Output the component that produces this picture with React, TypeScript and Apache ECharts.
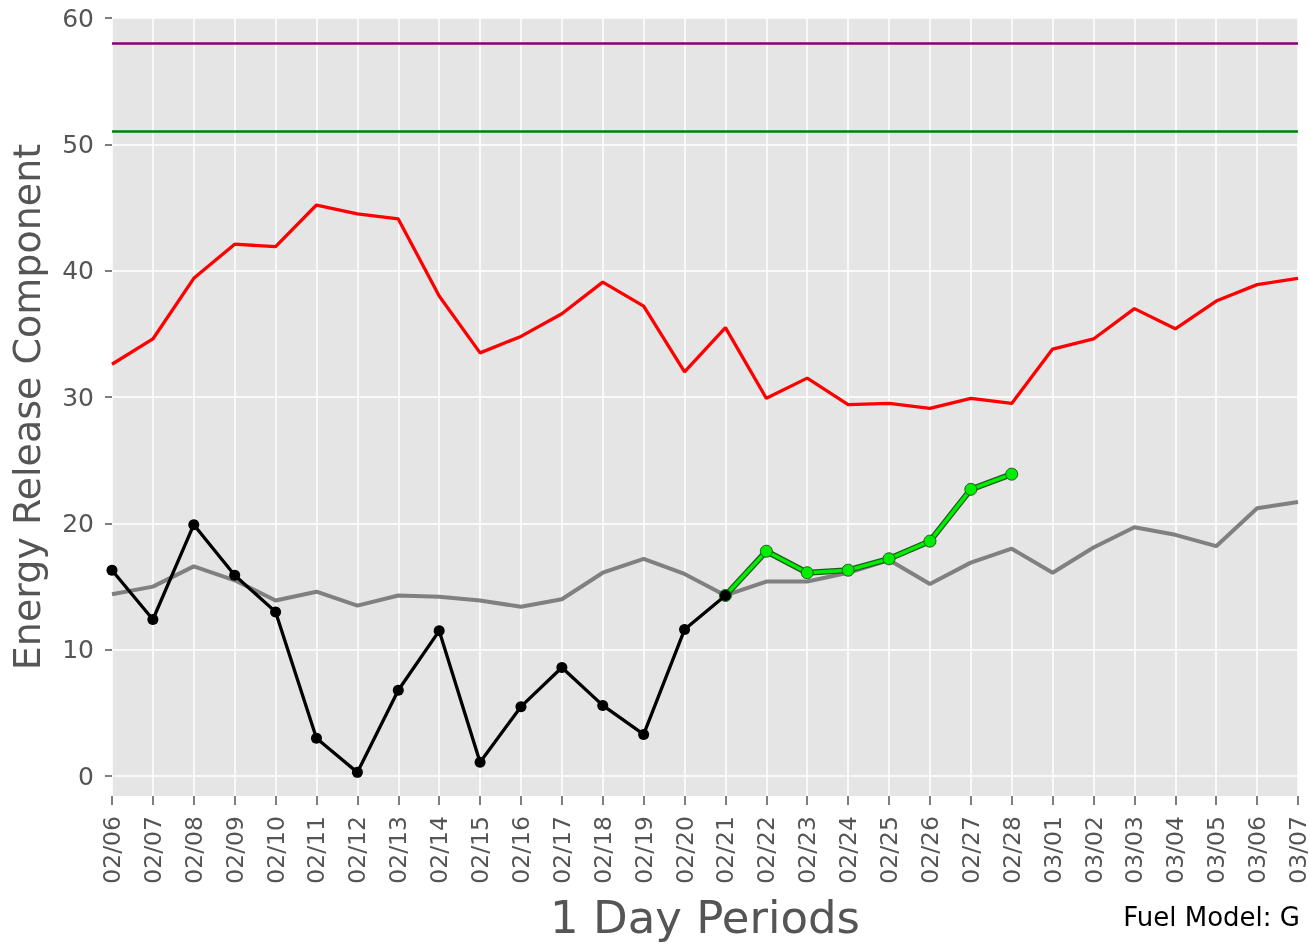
import React, { useEffect, useRef } from "react";
import * as echarts from "echarts";

const dates = [
  "02/06", "02/07", "02/08", "02/09", "02/10", "02/11", "02/12", "02/13", "02/14", "02/15",
  "02/16", "02/17", "02/18", "02/19", "02/20", "02/21", "02/22", "02/23", "02/24", "02/25",
  "02/26", "02/27", "02/28", "03/01", "03/02", "03/03", "03/04", "03/05", "03/06", "03/07",
];

const averageErc = [
  14.4, 15.0, 16.6, 15.5, 13.9, 14.6, 13.5, 14.3, 14.2, 13.9,
  13.4, 14.0, 16.1, 17.2, 16.0, 14.3, 15.4, 15.4, 16.1, 17.1,
  15.2, 16.9, 18.0, 16.1, 18.1, 19.7, 19.1, 18.2, 21.2, 21.7,
];

const maximumErc = [
  32.6, 34.6, 39.4, 42.1, 41.9, 45.2, 44.5, 44.1, 38.0, 33.5,
  34.8, 36.6, 39.1, 37.2, 32.0, 35.5, 29.9, 31.5, 29.4, 29.5,
  29.1, 29.9, 29.5, 33.8, 34.6, 37.0, 35.4, 37.6, 38.9, 39.4,
];

const observedErc = [
  16.3, 12.4, 19.9, 15.9, 13.0, 3.0, 0.3, 6.8, 11.5, 1.1,
  5.5, 8.6, 5.6, 3.3, 11.6, 14.3, null, null, null, null,
  null, null, null, null, null, null, null, null, null, null,
];

const forecastErc = [
  null, null, null, null, null, null, null, null, null, null,
  null, null, null, null, null, 14.3, 17.8, 16.1, 16.3, 17.2,
  18.6, 22.7, 23.9, null, null, null, null, null, null, null,
];

const upperThreshold = 58;
const lowerThreshold = 51;
const yTickValues = [0, 10, 20, 30, 40, 50, 60];

const FONT = "DejaVu Sans";

export default function App() {
  const ref = useRef<HTMLDivElement>(null);

  useEffect(() => {
    if (!ref.current) return;
    const chart = echarts.init(ref.current, null, { renderer: "svg" });
    chart.setOption({
      animation: false,
      textStyle: { fontFamily: FONT },
      grid: {
        left: 112,
        right: 9,
        top: 18,
        bottom: 145,
        show: true,
        backgroundColor: "#E5E5E5",
        borderWidth: 0,
      },
      xAxis: {
        type: "category",
        data: dates,
        boundaryGap: false,
        axisLine: { show: false, onZero: false },
        axisTick: {
          show: true,
          alignWithLabel: true,
          interval: 0,
          length: 9,
          lineStyle: { color: "#555", width: 1.5 },
        },
        axisLabel: {
          rotate: 90,
          interval: 0,
          fontSize: 23.5,
          color: "#555",
          margin: 20,
          fontFamily: FONT,
        },
        splitLine: { show: true, interval: 0, lineStyle: { color: "#ffffff", width: 1.5 } },
        name: "1 Day Periods",
        nameLocation: "middle",
        nameGap: 99,
        nameTextStyle: { fontSize: 45, color: "#555", fontFamily: FONT },
      },
      yAxis: {
        type: "value",
        min: -1.57,
        max: 60,
        axisLine: { show: false },
        axisTick: {
          show: true,
          length: 7,
          customValues: yTickValues,
          lineStyle: { color: "#555", width: 1.5 },
        },
        axisLabel: {
          customValues: yTickValues,
          fontSize: 25,
          color: "#555",
          margin: 18,
          fontFamily: FONT,
        },
        splitLine: { show: true, lineStyle: { color: "#ffffff", width: 1.5 } },
        name: "Energy Release Component",
        nameLocation: "middle",
        nameGap: 66,
        nameTextStyle: { fontSize: 38, color: "#555", fontFamily: FONT },
      },
      graphic: [
        {
          type: "text",
          right: 10,
          top: 904,
          style: { text: "Fuel Model: G", fontSize: 26, fill: "#000", fontFamily: FONT },
        },
      ],
      series: [
        {
          name: "Average",
          type: "line",
          data: averageErc,
          showSymbol: false,
          symbol: "none",
          lineStyle: { color: "#808080", width: 4 },
          z: 2,
          markLine: {
            silent: true,
            symbol: "none",
            label: { show: false },
            data: [
              { yAxis: upperThreshold, lineStyle: { color: "#800080", width: 2.5, type: "solid" } },
              { yAxis: lowerThreshold, lineStyle: { color: "#007f00", width: 2.5, type: "solid" } },
            ],
          },
        },
        {
          name: "Maximum",
          type: "line",
          data: maximumErc,
          symbol: "none",
          lineStyle: { color: "#ff0000", width: 3.3 },
          z: 3,
        },
        {
          name: "Forecast outline",
          type: "line",
          data: forecastErc,
          symbol: "none",
          connectNulls: false,
          lineStyle: { color: "#1d5c1d", width: 6 },
          z: 4,
        },
        {
          name: "Forecast",
          type: "line",
          data: forecastErc,
          symbol: "circle",
          symbolSize: 12,
          showAllSymbol: true,
          itemStyle: { color: "#00ee00", borderColor: "#1d5c1d", borderWidth: 1 },
          lineStyle: { color: "#00ee00", width: 3.5 },
          z: 5,
        },
        {
          name: "Observed",
          type: "line",
          data: observedErc,
          symbol: "circle",
          symbolSize: 11,
          showAllSymbol: true,
          itemStyle: { color: "#000000" },
          lineStyle: { color: "#000000", width: 3.3 },
          z: 6,
        },
      ],
    });
    return () => chart.dispose();
  }, []);

  return (
    <div
      ref={ref}
      style={{ position: "fixed", left: 0, top: 0, width: 1310, height: 945 }}
    />
  );
}
